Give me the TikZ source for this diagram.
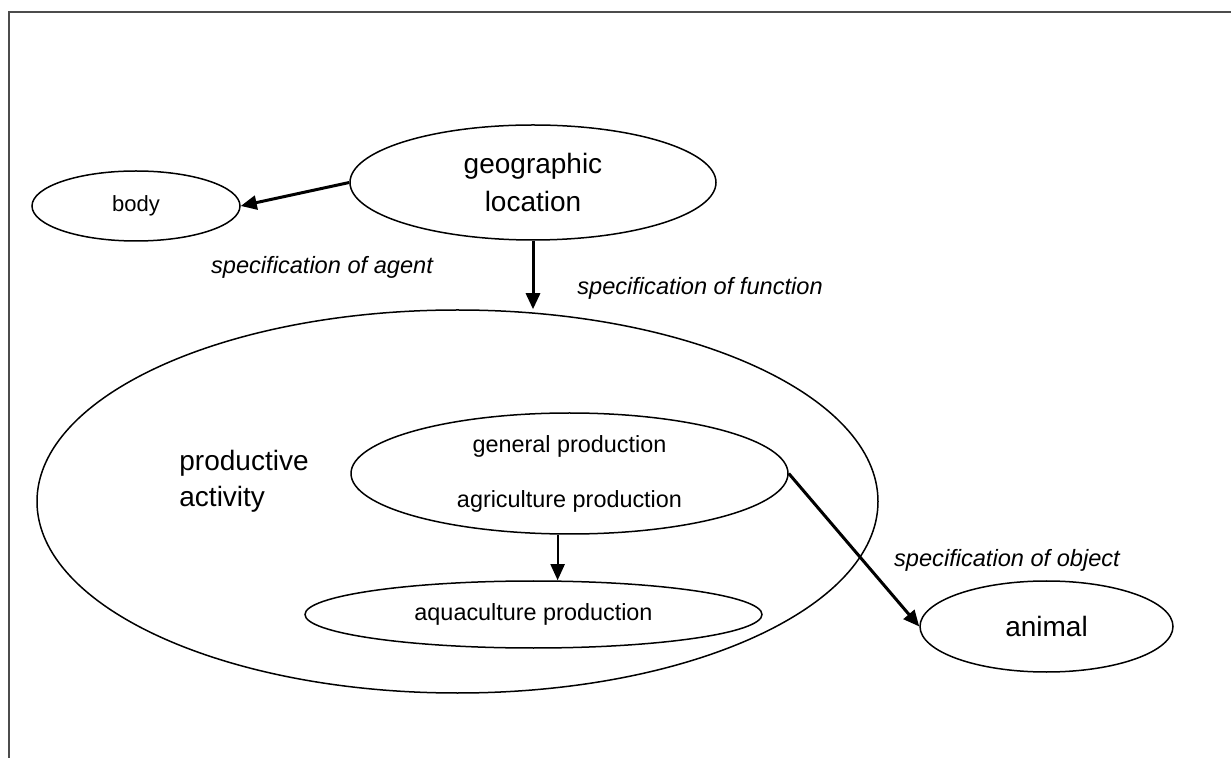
\documentclass[tikz,border=0pt]{standalone}
\usepackage{fontspec}
\setmainfont{Liberation Sans}
\usetikzlibrary{arrows.meta,shapes.geometric}

\begin{document}
\begin{tikzpicture}[x=0.5pt,y=-0.5pt]
    \tikzstyle{oval}=[ellipse,draw,line width=0.75pt,inner sep=0pt]  % all the ellipses
    \tikzstyle{relation}=[font=\fontsize{11.8}{14}\selectfont\itshape]  % italic labels
    \tikzstyle{link}=[line width=1.5pt,-{Triangle[length=8pt,width=7pt]}]
    \tikzstyle{thinlink}=[line width=1pt,-{Triangle[length=8pt,width=7pt]}]

    \useasboundingbox (0,0) rectangle (1231,758);
    % frame (only top and left edge are visible)
    \draw[line width=1pt,black!70] (9,758) -- (9,12) -- (1231,12);

    % nodes
    \node[oval,minimum width=104pt,minimum height=35pt,font=\fontsize{11}{13}\selectfont](body) at (136,206){body};
    \node[oval,minimum width=183pt,minimum height=57.5pt,align=center,font=\fontsize{14}{19}\selectfont](geo) at (533,182.5){geographic\\location};
    \node[oval,minimum width=420.5pt,minimum height=191.5pt](activity) at (457.5,501.5){};
    \node[align=left,font=\fontsize{14}{18}\selectfont](activitylabel) at (244,481){productive\\activity};
    \node[oval,minimum width=218.5pt,minimum height=60.5pt,align=center,font=\fontsize{11.7}{27.5}\selectfont](general) at (569.5,473.5){general production\\agriculture production};
    \node[oval,minimum width=228.5pt,minimum height=33.5pt,font=\fontsize{11.7}{14}\selectfont](aqua) at (533.5,614.5){aquaculture production};
    \node[oval,minimum width=126.5pt,minimum height=45.5pt,font=\fontsize{14}{17}\selectfont](animal) at (1046.5,626.5){animal};

    % labels of the relations
    \node[relation](agent) at (322,267){specification of agent};
    \node[relation](function) at (700,288){specification of function};
    \node[relation](object) at (1007,560){specification of object};

    % arrows
    \draw[link](geo.west)--(body.east);
    \draw[link](geo.south)--(geo.south |- activity.north);
    \draw[thinlink](general.259)--(general.259 |- aqua.north);
    \draw[link](general.east)--(animal.west);
\end{tikzpicture}
\end{document}
